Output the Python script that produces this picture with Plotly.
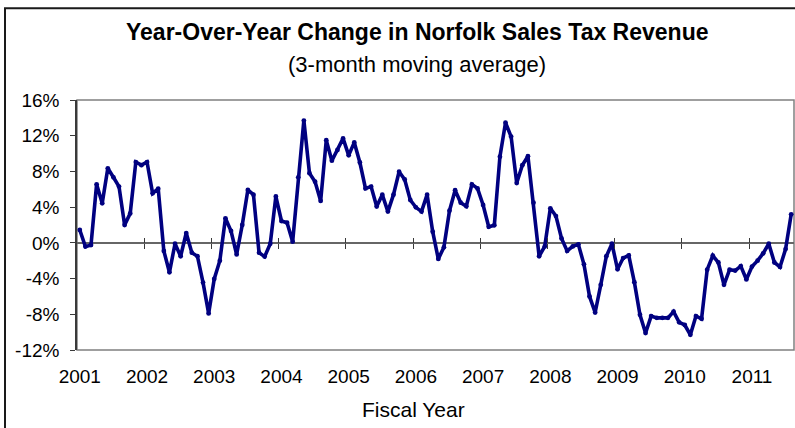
import plotly.graph_objects as go

# Year-over-year change in sales tax revenue, 3-month moving average (%), monthly
yoy_change = [
    1.44, -0.42, -0.24, 6.56, 4.43, 8.35, 7.34, 6.3, 2.0, 3.3, 9.05, 8.7,
    9.05, 5.55, 6.07, -0.9, -3.3, -0.1, -1.5, 1.1, -1.1, -1.5, -4.45, -7.9,
    -4.04, -2.0, 2.75, 1.33, -1.3, 2.0, 5.92, 5.4, -1.1, -1.54, -0.1, 5.2,
    2.45, 2.26, 0.13, 7.34, 13.7, 7.8, 6.85, 4.7, 11.5, 9.2, 10.4, 11.7,
    9.8, 11.25, 9.0, 6.1, 6.3, 4.06, 5.4, 3.5, 5.4, 7.97, 7.1, 4.8,
    3.98, 3.5, 5.4, 1.25, -1.8, -0.5, 3.6, 5.9, 4.5, 4.1, 6.55, 6.1,
    4.24, 1.8, 1.97, 9.65, 13.45, 11.9, 6.7, 8.7, 9.7, 4.5, -1.5, -0.4,
    3.87, 3.0, 0.5, -0.9, -0.4, -0.16, -2.4, -6.0, -7.8, -4.7, -1.5, -0.1,
    -2.96, -1.7, -1.4, -4.4, -8.05, -10.1, -8.2, -8.4, -8.4, -8.4, -7.7, -8.9,
    -9.2, -10.3, -8.2, -8.5, -3.0, -1.43, -2.2, -4.7, -3.0, -3.1, -2.6, -4.1,
    -2.66, -1.99, -1.17, -0.1, -2.2, -2.7, -0.7, 3.2,
]
month_index = list(range(len(yoy_change)))

fiscal_years = ["2001", "2002", "2003", "2004", "2005", "2006",
                "2007", "2008", "2009", "2010", "2011"]
months_per_year = 12

y_ticks = [-12, -8, -4, 0, 4, 8, 12, 16]
y_tick_text = ["-12%", "-8%", "-4%", "0%", "4%", "8%", "12%", "16%"]

FONT = "Liberation Sans, Arial, sans-serif"
NAVY = "#000080"
AXIS_DARK = "#3a3a3a"

year_starts = [k * months_per_year for k in range(len(fiscal_years))]
year_bounds = [k * months_per_year - 0.5 for k in range(1, len(fiscal_years))]
x_range = [-0.5, len(month_index) - 0.5]
y_min, y_max = y_ticks[0], y_ticks[-1]
zero_pos = (0 - y_min) / (y_max - y_min)

fig = go.Figure()

# transparent copies bound to the zero-line tick axes so those axes get drawn
for ax in ("x2", "x3"):
    fig.add_trace(go.Scatter(
        x=month_index, y=yoy_change, xaxis=ax, yaxis="y",
        mode="lines", line=dict(color="rgba(0,0,0,0)", width=0),
        showlegend=False, hoverinfo="skip",
    ))

fig.add_trace(go.Scatter(
    x=month_index, y=yoy_change,
    mode="lines+markers",
    line=dict(color=NAVY, width=3.6),
    marker=dict(color=NAVY, size=4.8),
    showlegend=False,
    hoverinfo="y",
))

W, H = 795, 428
L, R, T, B = 77, 1, 100, 78
pw, ph = W - L - R, H - T - B


def px_x(p):
    return (p - L) / pw


def px_y(p):
    return (H - B - p) / ph


# year-boundary tick marks crossing the zero line
cross_axis = dict(
    overlaying="x", anchor="free", position=zero_pos, range=x_range,
    tickmode="array", tickvals=year_bounds, ticklen=5, tickwidth=1,
    tickcolor=AXIS_DARK, showticklabels=False, showline=False,
    showgrid=False, zeroline=False,
)

fig.update_layout(
    width=W, height=H,
    margin=dict(l=L, r=R, t=T, b=B),
    paper_bgcolor="white", plot_bgcolor="white",
    font=dict(family=FONT, color="black"),
    xaxis=dict(
        range=x_range, tickmode="array", tickvals=year_starts,
        ticktext=fiscal_years, ticks="outside", ticklen=9,
        tickcolor="rgba(0,0,0,0)", showline=False, showgrid=False,
        zeroline=False, tickfont=dict(size=19, family=FONT, color="black"),
    ),
    xaxis2=dict(cross_axis, ticks="outside"),
    xaxis3=dict(cross_axis, ticks="inside"),
    yaxis=dict(
        range=[y_min, y_max], tickmode="array", tickvals=y_ticks,
        ticktext=y_tick_text, ticks="outside", ticklen=5, tickwidth=1,
        tickcolor=AXIS_DARK, showline=True, linecolor=AXIS_DARK,
        linewidth=1.5, showgrid=False, zeroline=True,
        zerolinecolor="#666666", zerolinewidth=1.5,
        ticklabelstandoff=7,
        tickfont=dict(size=19, family=FONT, color="black"),
    ),
    shapes=[
        # plot-area frame
        dict(type="rect", xref="paper", yref="paper", x0=0, y0=0, x1=1, y1=1,
             line=dict(color="#808080", width=1.5), layer="below"),
        # outer chart border
        dict(type="rect", xref="paper", yref="paper",
             x0=px_x(5), y0=px_y(445), x1=px_x(805), y1=px_y(8.3),
             line=dict(color="#1a1a1a", width=2), layer="below"),
    ],
    annotations=[
        dict(text="<b>Year-Over-Year Change in Norfolk Sales Tax Revenue</b>",
             xref="paper", yref="paper", x=px_x(417), y=px_y(32),
             xanchor="center", yanchor="middle", showarrow=False,
             font=dict(size=23, family=FONT, color="black")),
        dict(text="(3-month moving average)",
             xref="paper", yref="paper", x=px_x(417), y=px_y(64),
             xanchor="center", yanchor="middle", showarrow=False,
             font=dict(size=22, family=FONT, color="black")),
        dict(text="Fiscal Year",
             xref="paper", yref="paper", x=px_x(413), y=px_y(409),
             xanchor="center", yanchor="middle", showarrow=False,
             font=dict(size=21, family=FONT, color="black")),
    ],
)

fig.write_html("out.html")
